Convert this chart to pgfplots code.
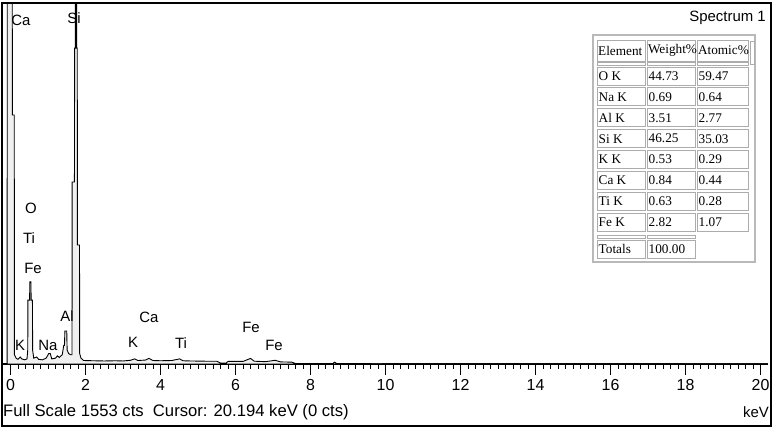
\documentclass[border=0pt]{standalone}
\usepackage{pgfplots}
\pgfplotsset{compat=1.18}
\usepackage{fontspec}
\setmainfont{Liberation Sans}
\newfontfamily\tnr{Liberation Serif}

\begin{document}
\begin{tikzpicture}
\useasboundingbox (0,0) rectangle (775bp,429bp);
\begin{axis}[
  at={(3bp,65bp)}, anchor=south west, scale only axis,
  width=765bp, height=361bp,
  xmin=-0.2, xmax=20.2, ymin=0, ymax=1553,
  axis x line*=bottom, axis y line=none,
  axis line style={-},
  x axis line style={line width=1.2bp},
  xtick={0,2,...,20}, minor x tick num=9,
  tick align=outside, major tick length=11bp, minor tick length=5bp,
  every tick/.style={black, line width=0.8bp},
  xticklabel style={font=\fontsize{16}{16}\selectfont, inner sep=1bp, yshift=-3bp},
  /pgf/number format/assume math mode=true,
  clip=true,
]
\addplot[fill=gray!12, draw=black, line width=0.9bp] coordinates {
(-0.2,0) (-0.09,0) (-0.085,2000) (0.045,2000) (0.05,1071) (0.10,1071)
(0.105,40) (0.15,25) (0.20,20) (0.26,30) (0.30,22) (0.38,18) (0.44,22)
(0.46,60) (0.465,275) (0.51,275) (0.515,353) (0.545,353) (0.55,275)
(0.585,275) (0.59,60) (0.62,25) (0.70,30) (0.75,20) (0.85,18) (0.95,25)
(1.02,45) (1.06,45) (1.10,22) (1.20,25) (1.25,35) (1.30,28) (1.38,40)
(1.42,80) (1.44,80) (1.45,142) (1.50,142) (1.51,60) (1.55,45) (1.60,40)
(1.64,40) (1.645,783) (1.705,783) (1.71,1359) (1.73,1359) (1.735,2000)
(1.76,2000) (1.765,1359) (1.78,1359) (1.785,512) (1.84,512) (1.845,45)
(1.88,25) (1.95,15) (2.2,14) (2.5,13) (2.8,14) (3.0,13) (3.2,16)
(3.31,22) (3.4,15) (3.6,17) (3.69,24) (3.8,15) (4.0,14) (4.3,15)
(4.51,22) (4.6,14) (4.8,13) (5.2,12) (5.5,12) (5.6,4) (5.75,4) (5.8,11)
(6.2,11) (6.4,24) (6.5,12) (6.8,10) (7.06,16) (7.2,9) (7.5,8) (7.6,2)
(8.6,2) (8.64,8) (8.7,2) (10,1) (20.2,0)
} \closedcycle;
\end{axis}

\begin{scope}[x=1bp, y=-1bp, yshift=429bp]
  % outer frame
  \draw[line width=1.5bp] (2,3) rectangle (771,426);
  % peak labels
  \tikzset{lab/.style={inner sep=0pt, font=\fontsize{15}{15}\selectfont}}
  \node[lab] at (21,20) {Ca};
  \node[lab] at (74,18) {Si};
  \node[lab] at (31,208) {O};
  \node[lab] at (29,238) {Ti};
  \node[lab] at (33,268) {Fe};
  \node[lab] at (20,345) {K};
  \node[lab] at (48,345) {Na};
  \node[lab] at (67,316) {Al};
  \node[lab] at (149,317) {Ca};
  \node[lab] at (133,342) {K};
  \node[lab] at (181,343) {Ti};
  \node[lab] at (251,327) {Fe};
  \node[lab] at (274,345) {Fe};
  % title and footer
  \node[anchor=east, inner sep=0pt, font=\fontsize{15}{15}\selectfont] at (766,18) {Spectrum 1};
  \node[anchor=west, inner sep=0pt, font=\fontsize{16.7}{17}\selectfont] at (3,412) {Full Scale 1553 cts\ \ Cursor: 20.194 keV (0 cts)};
  \node[anchor=east, inner sep=0pt, font=\fontsize{15}{15}\selectfont] at (769,412) {keV};
  % table
  \tikzset{cellb/.style={draw=gray!65, line width=0.8bp},
           tt/.style={anchor=west, inner sep=0pt, font=\tnr\fontsize{13.3}{14}\selectfont}}
  \draw[gray!55, line width=1.2bp, fill=white] (593,35) rectangle (755,262);
  \draw[cellb] (597,40) rectangle (645,61); \node[tt] at (598,50.5) {Element};
  \draw[cellb] (647,40) rectangle (695,61); \node[tt] at (647.8,50.5) {Weight\%};
  \draw[cellb] (697,40) rectangle (748,61); \node[tt] at (697.8,50.5) {Atomic\%};
  \draw[cellb] (750,41) rectangle (754,64);
  \draw[cellb] (597,62.5) rectangle (645,65);
  \draw[cellb] (647,62.5) rectangle (695,65);
  \draw[cellb] (697,62.5) rectangle (748,65);
  \foreach \e/\w/\a [count=\i from 0] in {O K/44.73/59.47, Na K/0.69/0.64, Al K/3.51/2.77, Si K/46.25/35.03, K K/0.53/0.29, Ca K/0.84/0.44, Ti K/0.63/0.28, Fe K/2.82/1.07} {
    \pgfmathsetmacro\yt{67+20.9*\i}
    \draw[cellb] (597,\yt) rectangle (645,\yt+18); \node[tt] at (598.5,\yt+9) {\e};
    \draw[cellb] (647,\yt) rectangle (695,\yt+18); \node[tt] at (648.5,\yt+9) {\w};
    \draw[cellb] (697,\yt) rectangle (748,\yt+18); \node[tt] at (698.5,\yt+9) {\a};
  }
  \draw[cellb] (597,235) rectangle (645,238);
  \draw[cellb] (647,235) rectangle (695,238);
  \draw[cellb] (597,240) rectangle (645,258); \node[tt] at (598.5,249) {Totals};
  \draw[cellb] (647,240) rectangle (695,258); \node[tt] at (648.5,249) {100.00};
\end{scope}
\end{tikzpicture}
\end{document}
